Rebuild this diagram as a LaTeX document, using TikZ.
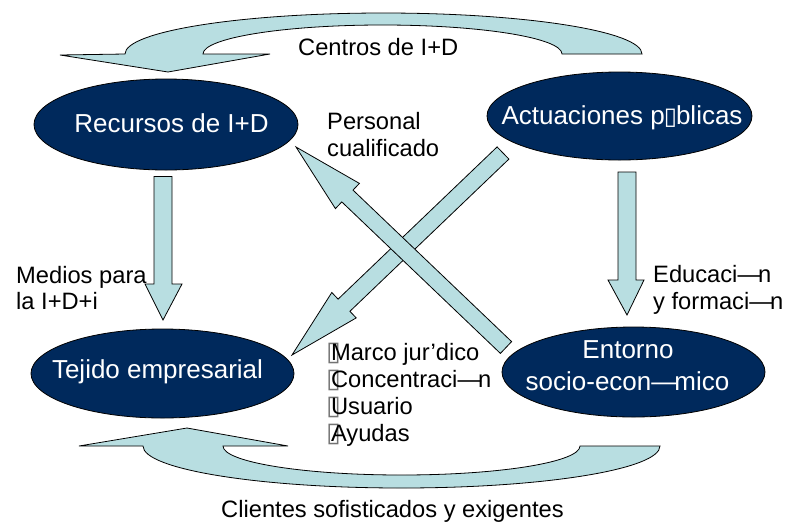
\documentclass[tikz,border=0pt]{standalone}
\usepackage{fontspec}
\setmainfont{Liberation Sans}
\newfontfamily\boxfont{DejaVu Sans}
\usetikzlibrary{shapes.geometric}
\definecolor{navy}{RGB}{0,41,92}
\definecolor{pale}{RGB}{184,222,225}
\newcommand{\nbox}{{\boxfont\fontsize{27}{27}\selectfont\color{black!55}\kern-2pt▯\kern-10pt}}
\newcommand{\ibox}{{\boxfont\fontsize{24}{24}\selectfont\kern-1pt▯\kern-1pt}}
\newcommand{\mdash}{—\kern-3pt}
\begin{document}
\begin{tikzpicture}[x=1pt,y=-1pt,
  ell/.style={ellipse, draw=black, line width=0.8pt, fill=navy, inner sep=0pt},
  band/.style={draw=black, line width=0.8pt, fill=pale, line join=miter},
  lbl/.style={anchor=base west, inner sep=0pt, font=\fontsize{23.7}{27}\selectfont},
  etxt/.style={anchor=base, inner sep=0pt, text=white, font=\fontsize{26}{31}\selectfont}]
\useasboundingbox (0,0) rectangle (787,523);

% curved arrow at the top (Centros de I+D)
\draw[band] (60,55) -- (168,72) -- (270,54) -- (203,54)
  arc[start angle=180, end angle=0, x radius=179.5pt, y radius=29pt]
  -- (642,54)
  arc[start angle=0, end angle=180, x radius=258.5pt, y radius=41pt]
  -- cycle;

% curved arrow at the bottom (Clientes)
\draw[band] (79,446) -- (187,428) -- (288,446) -- (223,446)
  arc[start angle=180, end angle=360, x radius=178.5pt, y radius=29pt]
  -- (660,446)
  arc[start angle=0, end angle=-180, x radius=258.5pt, y radius=42pt]
  -- cycle;

% vertical arrows
\draw[band] (154,176.5) -- (172,176.5) -- (172,284) -- (182,284) -- (163,320)
  -- (145,284) -- (154,284) -- cycle;
\draw[band] (618,172) -- (636,172) -- (636,280) -- (644,280) -- (627,315)
  -- (608,280) -- (618,280) -- cycle;

% diagonal arrows
\draw[band] (497.1,146.9) -- (508.9,159.1) -- (349.9,311.3) -- (356.2,317.9)
  -- (292,355) -- (331.8,292.5) -- (338.1,299.1) -- cycle;
\draw[band] (500.4,353.4) -- (511.6,341.6) -- (353.0,190.1) -- (359.4,183.4)
  -- (296,147) -- (335.4,208.6) -- (341.8,201.9) -- cycle;

% ellipses
\node[ell, minimum width=264pt, minimum height=91pt] (rec) at (166,124.5) {};
\node[ell, minimum width=263pt, minimum height=89pt] (tej) at (162.5,373.5) {};
\node[ell, minimum width=265pt, minimum height=88pt] (act) at (619.5,116) {};
\node[ell, minimum width=263pt, minimum height=90pt] (ent) at (633.5,372) {};

\node[etxt] (recT) at (171.5,132) {Recursos de I+D};
\node[etxt] (tejT) at (157.5,378) {Tejido empresarial};
\node[etxt] (actT) at (622,124) {Actuaciones p\ibox blicas};
\node[etxt] (entT1) at (628,358) {Entorno};
\node[etxt] (entT2) at (627.5,390) {socio-econ\mdash mico};

% labels
\node[lbl] (cen) at (298,55) {Centros de I+D};
\node[lbl] (pers1) at (327,129) {Personal};
\node[lbl] (pers2) at (327,156) {cualificado};
\node[lbl] (med1) at (16,283) {Medios para};
\node[lbl] (med2) at (16,309) {la I+D+i};
\node[lbl] (edu1) at (653,282) {Educaci\mdash n};
\node[lbl] (edu2) at (653,309) {y formaci\mdash n};
\node[lbl] (bul1) at (328,360) {\nbox Marco jur’dico};
\node[lbl] (bul2) at (328,387.3) {\nbox Concentraci\mdash n};
\node[lbl] (bul3) at (328,414.6) {\nbox Usuario};
\node[lbl] (bul4) at (328,441.9) {\nbox Ayudas};
\node[lbl] (cli) at (221,517) {Clientes sofisticados y exigentes};
\end{tikzpicture}
\end{document}
